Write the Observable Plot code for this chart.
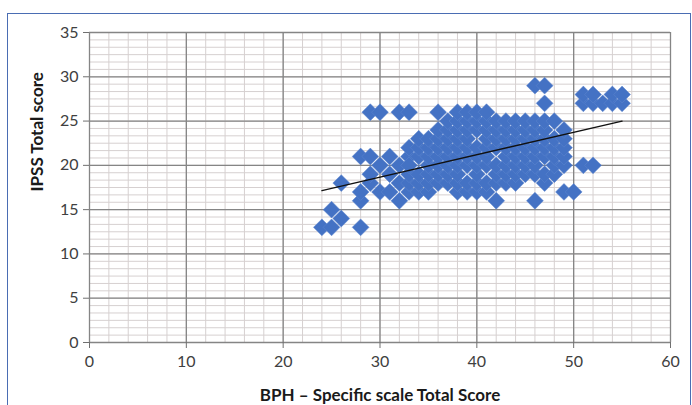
<!DOCTYPE html>
<html><head><meta charset="utf-8">
<script src="https://cdn.jsdelivr.net/npm/d3@7"></script>
<script src="https://cdn.jsdelivr.net/npm/@observablehq/plot@0.6"></script>
<style>
html,body{margin:0;padding:0;background:#fff;overflow:hidden;}
#wrap{position:relative;width:692px;height:405px;}
#frame{position:absolute;left:7px;top:13px;width:684px;height:430px;border:1.5px solid #4a6db3;box-sizing:border-box;pointer-events:none;}
#chart{position:absolute;left:0;top:0;}
</style></head><body><div id="wrap"><div id="chart"></div><div id="frame"></div></div>
<script>
// Data
const bph = [
  24,25,25,26,26,28,28,28,28,29,29,29,29,30,30,30,31,31,31,32,32,32,32,33,33,33,36,
  33,33,33,33,
  34,34,34,34,34,34,
  35,35,35,35,35,35,35,
  36,36,36,36,36,36,36,
  37,37,37,37,37,37,37,37,
  38,38,38,38,38,38,38,38,38,38,
  39,39,39,39,39,39,39,39,39,
  40,40,40,40,40,40,40,40,40,
  41,41,41,41,41,41,41,41,41,
  42,42,42,42,42,42,42,42,
  43,43,43,43,43,43,43,43,
  44,44,44,44,44,44,44,44,
  45,45,45,45,45,45,45,
  46,46,46,46,46,46,46,46,46,
  47,47,47,47,47,47,47,47,47,
  48,48,48,48,48,48,
  49,49,49,49,49,49,
  50,51,51,51,52,52,52,53,54,54,55,55
];
const ipss = [
  13,13,15,14,18,13,16,17,21,18,19,21,26,17,20,26,17,19,21,16,18,20,26,17,21,26,26,
  18,19,20,22,
  17,18,19,21,22,23,
  17,18,19,20,21,22,23,
  18,19,20,21,22,23,24,
  18,19,20,21,22,23,24,25,
  17,18,19,20,21,22,23,24,25,26,
  17,18,20,21,22,23,24,25,26,
  17,18,19,20,21,22,24,25,26,
  17,18,20,21,22,23,24,25,26,
  16,18,19,20,22,23,24,25,
  18,19,20,21,22,23,24,25,
  18,19,20,21,22,23,24,25,
  19,20,21,22,23,24,25,
  16,19,20,21,22,23,24,25,29,
  18,19,21,22,23,24,25,27,29,
  19,20,21,22,23,25,
  17,20,21,22,23,24,
  17,20,27,28,20,27,28,27,27,28,27,28
];
const trendX = [24, 55];
const trendY = [17.15, 25.0];
const xTicks = [0, 10, 20, 30, 40, 50, 60];
const yTicks = [0, 5, 10, 15, 20, 25, 30, 35];
const xTitle = "BPH – Specific scale Total Score";
const yTitle = "IPSS Total score";

const points = bph.map((x, i) => ({x, y: ipss[i]}));
const trend = trendX.map((x, i) => ({x, y: trendY[i]}));
const xMinor = d3.range(0, 60.01, 2);
const yMinor = d3.range(0, 35.01, 5 / 6);

const chart = Plot.plot({
  width: 692,
  height: 405,
  marginLeft: 89,
  marginRight: 22,
  marginTop: 32,
  marginBottom: 63,
  style: {fontFamily: "Lato, 'Open Sans', sans-serif", fontSize: "16px", color: "#404040", background: "transparent"},
  x: {domain: [0, 60]},
  y: {domain: [0, 35]},
  marks: [
    Plot.ruleX(xMinor, {stroke: "#d6d0d0", strokeWidth: 1}),
    Plot.ruleY(yMinor, {stroke: "#d6d0d0", strokeWidth: 1}),
    Plot.ruleX(xTicks, {stroke: "#858585", strokeWidth: 1.3}),
    Plot.ruleY(yTicks, {stroke: "#858585", strokeWidth: 1.3}),
    Plot.dot(points, {x: "x", y: "y", symbol: "diamond2", r: 7.6, fill: "#4472C4", stroke: "#5e86cf", strokeWidth: 0.5}),
    Plot.line(trend, {x: "x", y: "y", stroke: "#111", strokeWidth: 1.3}),
    Plot.axisX({ticks: xTicks, tickSize: 6, tickPadding: 7, label: null, fontSize: 16, stroke: "#707070", fill: "#404040"}),
    Plot.axisY({ticks: yTicks, tickSize: 6, tickPadding: 5, label: null, fontSize: 16, stroke: "#707070", fill: "#404040"}),
    Plot.text([xTitle], {text: d => d, frameAnchor: "bottom", dy: 58, fontWeight: "bold", fontSize: 17, fill: "#1a1a1a"}),
    Plot.text([yTitle], {text: d => d, frameAnchor: "left", dx: -52, dy: 4, rotate: -90, fontWeight: "bold", fontSize: 17, fill: "#1a1a1a"})
  ]
});
document.getElementById("chart").appendChild(chart);
</script>
</body></html>
